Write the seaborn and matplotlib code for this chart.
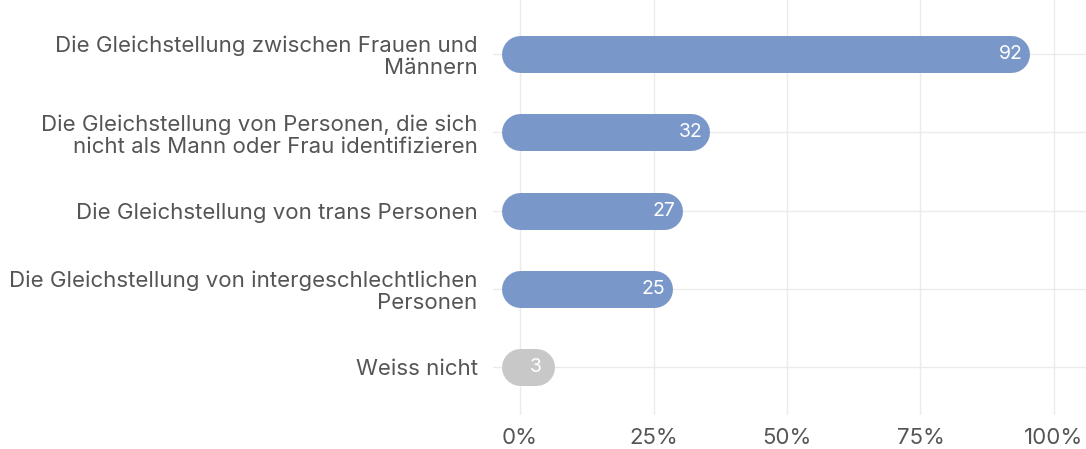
import matplotlib
matplotlib.use("Agg")
import matplotlib.pyplot as plt
import seaborn as sns
import pandas as pd
from matplotlib.ticker import FuncFormatter

# Data
categories = [
    "Die Gleichstellung zwischen Frauen und\nMännern",
    "Die Gleichstellung von Personen, die sich\nnicht als Mann oder Frau identifizieren",
    "Die Gleichstellung von trans Personen",
    "Die Gleichstellung von intergeschlechtlichen\nPersonen",
    "Weiss nicht",
]
values = [92, 32, 27, 25, 3]
bar_colors = ["#7a97c9", "#7a97c9", "#7a97c9", "#7a97c9", "#c8c8c8"]
xticks = [0, 25, 50, 75, 100]

df = pd.DataFrame({"cat": categories, "val": values})

sns.set_theme(style="whitegrid")
plt.rcParams["font.family"] = ["Inter", "DejaVu Sans"]

fig = plt.figure(figsize=(10.86, 4.49), dpi=100)
ax = fig.add_axes([493 / 1086, 1 - 415 / 449, 1 - 493 / 1086, 415 / 449])

sns.barplot(data=df, x="val", y="cat", hue="cat", palette=bar_colors,
            legend=False, ax=ax, width=0.5)

# turn the square bars into rounded capsules
bar_lw = 37 * 72 / 100
for patch, c in zip(list(ax.patches), bar_colors):
    y = patch.get_y() + patch.get_height() / 2
    x0 = patch.get_x()
    x1 = x0 + patch.get_width()
    ax.plot([x0, x1], [y, y], color=c, lw=bar_lw, solid_capstyle="round", zorder=3)
    ax.text(x1, y, f"{int(round(x1))}", color="white", ha="center", va="center",
            fontsize=14, zorder=4)
    patch.remove()

ax.set_xlim(-5.06, 106)
ax.set_ylim(4.61, -0.69)
ax.set_xticks(xticks)
ax.xaxis.set_major_formatter(FuncFormatter(lambda v, p: f"{int(v)}%"))
ax.set_xlabel("")
ax.set_ylabel("")
ax.grid(True, color="#ebebeb", lw=1)
for s in ax.spines.values():
    s.set_visible(False)
ax.tick_params(axis="y", length=0, pad=11, labelsize=16, labelcolor="#555555")
ax.tick_params(axis="x", length=0, pad=9, labelsize=16, labelcolor="#555555")
for t in ax.get_yticklabels():
    t.set_linespacing(1.12)

fig.savefig("out.png", dpi=100)
